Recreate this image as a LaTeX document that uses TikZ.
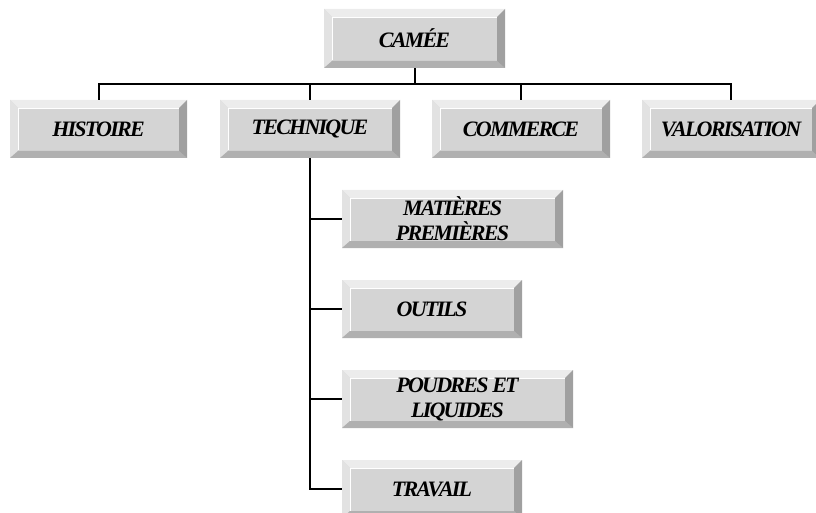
\documentclass[tikz,border=0pt]{standalone}
\usepackage{fontspec}
\setmainfont{Liberation Serif}
\newfontfamily\boxfont{Liberation Serif}[LetterSpace=-8]
\definecolor{face}{RGB}{212,212,212}
\definecolor{bevtop}{RGB}{236,236,236}
\definecolor{bevleft}{RGB}{226,226,226}
\definecolor{bevbot}{RGB}{176,176,176}
\definecolor{bevright}{RGB}{160,160,160}
\tikzset{
  bevbox/.style={
    fill=face, draw=none, inner sep=0pt, align=center,
    font=\boxfont\fontsize{22}{25}\selectfont\bfseries\itshape,
    path picture={
      \coordinate (NW) at (path picture bounding box.north west);
      \coordinate (NE) at (path picture bounding box.north east);
      \coordinate (SW) at (path picture bounding box.south west);
      \coordinate (SE) at (path picture bounding box.south east);
      \fill[bevtop] (NW) -- (NE) -- ([xshift=-8pt,yshift=-8pt]NE) -- ([xshift=8pt,yshift=-8pt]NW) -- cycle;
      \fill[bevleft] (NW) -- ([xshift=8pt,yshift=-8pt]NW) -- ([xshift=8pt,yshift=7pt]SW) -- (SW) -- cycle;
      \fill[bevbot] (SW) -- ([xshift=8pt,yshift=7pt]SW) -- ([xshift=-8pt,yshift=7pt]SE) -- (SE) -- cycle;
      \fill[bevright] (SE) -- ([xshift=-8pt,yshift=7pt]SE) -- ([xshift=-8pt,yshift=-8pt]NE) -- (NE) -- cycle;
      \draw[white, line width=1pt] ([xshift=8.5pt,yshift=7.5pt]SW) -- ([xshift=8.5pt,yshift=-8.5pt]NW) -- ([xshift=-8.5pt,yshift=-8.5pt]NE);
    }
  },
  conn/.style={draw=black, line width=2pt}
}
\begin{document}
\begin{tikzpicture}[x=1pt,y=-1pt]
\useasboundingbox (0,0) rectangle (816,513);
\node[bevbox, minimum width=181pt, minimum height=59pt] (camee) at (414.5,38.5) {CAMÉE};
\node[bevbox, minimum width=177pt, minimum height=58pt] (histoire) at (98.5,129) {HISTOIRE};
\node[bevbox, minimum width=180pt, minimum height=58pt] (technique) at (310,129) {TECHNIQUE};
\node[bevbox, minimum width=178pt, minimum height=58pt] (commerce) at (521,129) {COMMERCE};
\node[bevbox, minimum width=178pt, minimum height=58pt] (valorisation) at (731,129) {VALORISATION};
\node[bevbox, minimum width=221pt, minimum height=58pt] (matieres) at (452.5,219) {MATIÈRES\\PREMIÈRES};
\node[bevbox, minimum width=180pt, minimum height=58pt] (outils) at (432,309) {OUTILS};
\node[bevbox, minimum width=231pt, minimum height=58pt] (poudres) at (457.5,399) {POUDRES ET\\LIQUIDES};
\node[bevbox, minimum width=180pt, minimum height=58pt] (travail) at (432,489) {TRAVAIL};
\coordinate (bus) at (414.5,84);
\draw[conn] (camee.south) -- (bus);
\draw[conn] (bus) -| (histoire.north);
\draw[conn] (bus) -| (technique.north);
\draw[conn] (bus) -| (commerce.north);
\draw[conn] (bus) -| (valorisation.north);
\draw[conn] (technique.south) |- (matieres.west);
\draw[conn] (technique.south) |- (outils.west);
\draw[conn] (technique.south) |- (poudres.west);
\draw[conn] (technique.south) |- (travail.west);
\end{tikzpicture}
\end{document}
